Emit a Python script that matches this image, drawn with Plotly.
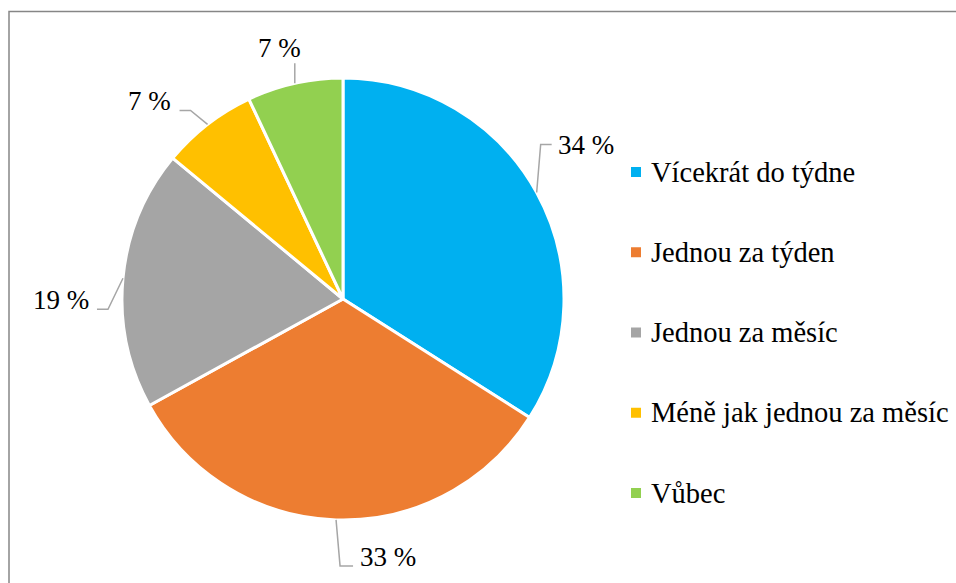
import math
import plotly.graph_objects as go

# ---------------- data ----------------
categories = ["Vícekrát do týdne", "Jednou za týden", "Jednou za měsíc",
              "Méně jak jednou za měsíc", "Vůbec"]
values = [34, 33, 19, 7, 7]
colors = ["#00B0F0", "#ED7D31", "#A5A5A5", "#FFC000", "#92D050"]

# ---------------- layout constants (pixels) ----------------
W, H = 956, 583
CX, CY, R = 343, 299, 221
FONT = "Times New Roman, Liberation Serif, DejaVu Serif, serif"
LABEL_SIZE = 27
LEGEND_SIZE = 28.5
LEADER_COLOR = "#A6A6A6"

# leader-line style per slice: (dx1, dy1) elbow from edge, dx2 horizontal run,
# label anchor, label extra shift (dx, dy)
leader_style = [
    dict(d1=(4, -48), d2=11, anchor="left", shift=(4, 0)),
    dict(d1=(4, 46), d2=13, anchor="left", shift=(5, -9)),
    dict(d1=(-15, 31), d2=-11, anchor="right", shift=(-6, -9)),
    dict(d1=(-17, -14), d2=-11, anchor="right", shift=(-7, -9)),
    dict(d1=(0, -20), d2=0, anchor="center", shift=(-15, -15)),
]

def px(x):
    return x / W

def py(y):
    return 1 - y / H

fig = go.Figure()
fig.add_trace(go.Pie(
    labels=categories,
    values=values,
    sort=False,
    direction="clockwise",
    rotation=0,
    marker=dict(colors=colors, line=dict(color="white", width=3)),
    textinfo="none",
    hoverinfo="label+percent",
    showlegend=False,
    domain=dict(x=[px(CX - R), px(CX + R)], y=[py(CY + R), py(CY - R)]),
))

shapes = []
annotations = []

total = sum(values)
cum = 0
for v, st in zip(values, leader_style):
    mid = (cum + v / 2) / total * 2 * math.pi
    cum += v
    ex = CX + R * math.sin(mid)
    ey = CY - R * math.cos(mid)
    bx = ex + st["d1"][0]
    by = ey + st["d1"][1]
    fx = bx + st["d2"]
    fy = by
    path = f"M {px(ex)},{py(ey)} L {px(bx)},{py(by)} L {px(fx)},{py(fy)}"
    shapes.append(dict(type="path", xref="paper", yref="paper", path=path,
                       line=dict(color=LEADER_COLOR, width=1.5)))
    pct = round(v / total * 100)
    annotations.append(dict(
        x=px(fx + st["shift"][0]), y=py(fy + st["shift"][1]),
        xref="paper", yref="paper", xanchor=st["anchor"], yanchor="middle",
        text=f"{pct} %", showarrow=False,
        font=dict(family=FONT, size=LABEL_SIZE, color="#000000"),
    ))

# custom legend
LEG_X, LEG_Y0, LEG_STEP, SQ = 636, 172, 80.25, 10
for i, (cat, col) in enumerate(zip(categories, colors)):
    yc = LEG_Y0 + i * LEG_STEP
    shapes.append(dict(type="rect", xref="paper", yref="paper",
                       x0=px(LEG_X - SQ / 2), x1=px(LEG_X + SQ / 2),
                       y0=py(yc + SQ / 2), y1=py(yc - SQ / 2),
                       fillcolor=col, line=dict(width=0)))
    annotations.append(dict(
        x=px(649), y=py(yc), xref="paper", yref="paper",
        xanchor="left", yanchor="middle", text=cat, showarrow=False,
        font=dict(family=FONT, size=LEGEND_SIZE, color="#000000"),
    ))

# chart border
shapes.append(dict(type="rect", xref="paper", yref="paper",
                   x0=px(9), x1=1.1, y0=-0.1, y1=py(11.5),
                   line=dict(color="#868686", width=1.5), fillcolor="rgba(0,0,0,0)"))

fig.update_layout(
    width=W, height=H,
    margin=dict(l=0, r=0, t=0, b=0),
    paper_bgcolor="white",
    plot_bgcolor="white",
    font=dict(family=FONT),
    shapes=shapes,
    annotations=annotations,
    showlegend=False,
)

fig.write_html("out.html", config=dict(displayModeBar=False),
               post_script="document.body.style.margin='0';document.body.style.overflow='hidden';")
